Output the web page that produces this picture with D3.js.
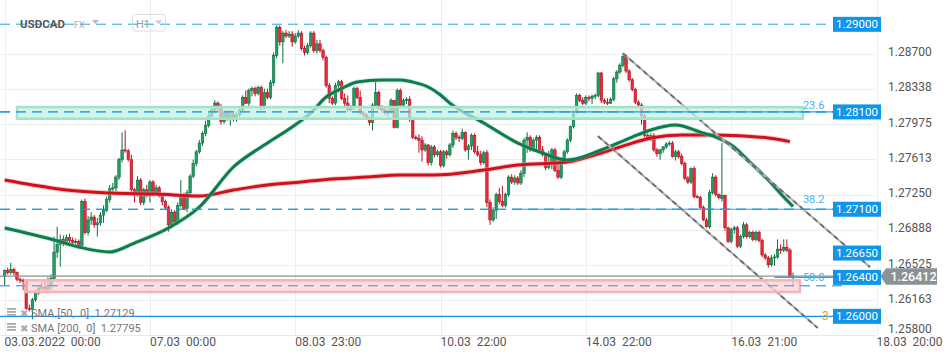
<!DOCTYPE html>
<html><head><meta charset="utf-8">
<script src="https://cdn.jsdelivr.net/npm/d3@7"></script>
<style>body{margin:0;background:#fff;} svg{display:block;font-family:Roboto,Arial,sans-serif;} text{white-space:pre;}</style>
</head><body><svg id="c" width="950" height="360"></svg>
<script>
// ---------- DATA ----------
const opens=[1.2641,1.2647,1.2645,1.2648,1.2645,1.2638,1.2637,1.2636,1.2608,1.2607,
1.2617,1.2624,1.2629,1.2630,1.2628,1.2632,1.2639,1.2666,1.2674,1.2679,
1.2676,1.2681,1.2678,1.2676,1.2677,1.2673,1.2718,1.2686,1.2699,1.2702,
1.2694,1.2696,1.2704,1.2709,1.2720,1.2731,1.2732,1.2743,1.2761,1.2771,
1.2770,1.2761,1.2730,1.2725,1.2740,1.2717,1.2730,1.2724,1.2738,1.2727,
1.2732,1.2724,1.2718,1.2712,1.2694,1.2707,1.2697,1.2714,1.2722,1.2711,
1.2727,1.2744,1.2757,1.2769,1.2778,1.2788,1.2796,1.2806,1.2812,1.2819,
1.2814,1.2800,1.2809,1.2802,1.2808,1.2802,1.2807,1.2812,1.2825,1.2819,
1.2832,1.2834,1.2829,1.2835,1.2815,1.2830,1.2825,1.2840,1.2868,1.2897,
1.2882,1.2891,1.2888,1.2890,1.2882,1.2888,1.2891,1.2875,1.2871,1.2878,
1.2891,1.2873,1.2880,1.2873,1.2866,1.2837,1.2824,1.2819,1.2837,1.2841,
1.2824,1.2819,1.2812,1.2815,1.2834,1.2825,1.2809,1.2807,1.2804,1.2799,
1.2817,1.2830,1.2814,1.2812,1.2809,1.2810,1.2822,1.2794,1.2832,1.2817,
1.2822,1.2823,1.2802,1.2784,1.2783,1.2781,1.2771,1.2776,1.2758,1.2774,
1.2766,1.2769,1.2755,1.2769,1.2766,1.2776,1.2788,1.2784,1.2783,1.2789,
1.2771,1.2775,1.2786,1.2769,1.2766,1.2758,1.2768,1.2717,1.2699,1.2709,
1.2725,1.2718,1.2714,1.2725,1.2743,1.2738,1.2742,1.2737,1.2747,1.2781,
1.2784,1.2771,1.2781,1.2784,1.2771,1.2766,1.2753,1.2758,1.2771,1.2750,
1.2743,1.2759,1.2769,1.2781,1.2795,1.2810,1.2827,1.2822,1.2819,1.2825,
1.2824,1.2826,1.2827,1.2850,1.2822,1.2820,1.2819,1.2823,1.2844,1.2851,
1.2858,1.2867,1.2852,1.2843,1.2833,1.2820,1.2817,1.2806,1.2786,1.2782,
1.2786,1.2771,1.2767,1.2771,1.2774,1.2777,1.2778,1.2764,1.2769,1.2764,
1.2757,1.2742,1.2738,1.2752,1.2723,1.2722,1.2712,1.2699,1.2692,1.2727,
1.2743,1.2725,1.2721,1.2724,1.2691,1.2677,1.2689,1.2691,1.2672,1.2682,
1.2694,1.2682,1.2686,1.2679,1.2686,1.2678,1.2663,1.2660,1.2653,1.2660,
1.2661,1.2669,1.2668,1.2671,1.2668,1.2640];
const highs=[1.2648,1.2650,1.2655,1.2650,1.2646,1.2640,1.2639,1.2637,1.2612,1.2619,
1.2627,1.2632,1.2635,1.2638,1.2640,1.2643,1.2682,1.2692,1.2684,1.2683,
1.2684,1.2685,1.2681,1.2680,1.2679,1.2720,1.2721,1.2703,1.2707,1.2704,
1.2701,1.2707,1.2714,1.2723,1.2735,1.2737,1.2745,1.2763,1.2789,1.2791,
1.2772,1.2766,1.2732,1.2744,1.2742,1.2732,1.2735,1.2740,1.2740,1.2735,
1.2734,1.2726,1.2720,1.2714,1.2710,1.2709,1.2717,1.2740,1.2727,1.2730,
1.2746,1.2761,1.2771,1.2781,1.2790,1.2801,1.2809,1.2816,1.2822,1.2821,
1.2818,1.2812,1.2812,1.2812,1.2810,1.2810,1.2814,1.2827,1.2832,1.2834,
1.2836,1.2836,1.2837,1.2837,1.2834,1.2834,1.2843,1.2871,1.2899,1.2899,
1.2893,1.2894,1.2893,1.2893,1.2891,1.2894,1.2893,1.2878,1.2881,1.2893,
1.2893,1.2884,1.2884,1.2875,1.2868,1.2840,1.2826,1.2840,1.2843,1.2843,
1.2829,1.2827,1.2817,1.2836,1.2836,1.2832,1.2811,1.2809,1.2806,1.2819,
1.2841,1.2832,1.2817,1.2814,1.2813,1.2824,1.2822,1.2834,1.2834,1.2824,
1.2825,1.2826,1.2804,1.2786,1.2787,1.2785,1.2778,1.2777,1.2776,1.2776,
1.2771,1.2771,1.2771,1.2771,1.2778,1.2791,1.2790,1.2786,1.2793,1.2790,
1.2777,1.2788,1.2788,1.2775,1.2770,1.2770,1.2771,1.2720,1.2712,1.2727,
1.2732,1.2734,1.2727,1.2745,1.2746,1.2745,1.2744,1.2750,1.2783,1.2789,
1.2786,1.2783,1.2786,1.2786,1.2775,1.2768,1.2770,1.2773,1.2773,1.2763,
1.2761,1.2771,1.2783,1.2796,1.2812,1.2829,1.2829,1.2825,1.2827,1.2827,
1.2828,1.2829,1.2851,1.2851,1.2824,1.2824,1.2825,1.2846,1.2853,1.2860,
1.2870,1.2869,1.2854,1.2845,1.2835,1.2822,1.2819,1.2808,1.2788,1.2788,
1.2788,1.2773,1.2772,1.2775,1.2779,1.2780,1.2780,1.2771,1.2771,1.2767,
1.2759,1.2744,1.2753,1.2754,1.2725,1.2724,1.2714,1.2701,1.2730,1.2747,
1.2745,1.2726,1.2778,1.2725,1.2692,1.2691,1.2693,1.2693,1.2684,1.2697,
1.2696,1.2688,1.2688,1.2688,1.2688,1.2680,1.2665,1.2662,1.2663,1.2664,
1.2679,1.2674,1.2679,1.2679,1.2670,1.2645];
const lows=[1.2632,1.2643,1.2643,1.2642,1.2636,1.2634,1.2627,1.2607,1.2605,1.2597,
1.2615,1.2622,1.2627,1.2625,1.2626,1.2627,1.2636,1.2660,1.2651,1.2672,
1.2673,1.2674,1.2672,1.2673,1.2671,1.2671,1.2684,1.2683,1.2694,1.2691,
1.2682,1.2693,1.2696,1.2707,1.2717,1.2727,1.2728,1.2740,1.2758,1.2768,
1.2759,1.2728,1.2717,1.2723,1.2714,1.2714,1.2722,1.2717,1.2724,1.2724,
1.2722,1.2714,1.2709,1.2687,1.2691,1.2695,1.2694,1.2712,1.2709,1.2707,
1.2724,1.2742,1.2754,1.2767,1.2775,1.2785,1.2794,1.2804,1.2809,1.2810,
1.2797,1.2798,1.2801,1.2796,1.2800,1.2800,1.2805,1.2810,1.2818,1.2816,
1.2826,1.2826,1.2827,1.2812,1.2812,1.2823,1.2823,1.2837,1.2865,1.2878,
1.2860,1.2886,1.2886,1.2877,1.2880,1.2886,1.2873,1.2868,1.2869,1.2876,
1.2871,1.2870,1.2871,1.2863,1.2835,1.2819,1.2817,1.2817,1.2830,1.2822,
1.2816,1.2810,1.2810,1.2812,1.2823,1.2807,1.2805,1.2802,1.2796,1.2791,
1.2815,1.2812,1.2809,1.2807,1.2805,1.2808,1.2793,1.2793,1.2815,1.2815,
1.2818,1.2800,1.2782,1.2781,1.2768,1.2759,1.2769,1.2755,1.2755,1.2763,
1.2764,1.2753,1.2753,1.2762,1.2764,1.2773,1.2781,1.2779,1.2781,1.2769,
1.2761,1.2771,1.2767,1.2764,1.2755,1.2756,1.2712,1.2694,1.2697,1.2700,
1.2715,1.2712,1.2712,1.2723,1.2736,1.2735,1.2735,1.2735,1.2743,1.2768,
1.2769,1.2769,1.2769,1.2769,1.2764,1.2750,1.2751,1.2751,1.2748,1.2741,
1.2741,1.2757,1.2767,1.2779,1.2793,1.2808,1.2820,1.2817,1.2817,1.2821,
1.2818,1.2823,1.2825,1.2819,1.2818,1.2817,1.2818,1.2821,1.2840,1.2849,
1.2856,1.2850,1.2841,1.2831,1.2818,1.2815,1.2797,1.2784,1.2780,1.2780,
1.2769,1.2764,1.2761,1.2768,1.2772,1.2775,1.2763,1.2760,1.2762,1.2755,
1.2740,1.2736,1.2736,1.2721,1.2721,1.2710,1.2698,1.2691,1.2690,1.2725,
1.2723,1.2720,1.2718,1.2688,1.2675,1.2675,1.2685,1.2670,1.2670,1.2680,
1.2680,1.2680,1.2677,1.2677,1.2676,1.2661,1.2658,1.2650,1.2651,1.2652,
1.2659,1.2664,1.2666,1.2666,1.2640,1.2630];
const closes=[1.2647,1.2645,1.2648,1.2645,1.2638,1.2637,1.2636,1.2608,1.2607,1.2617,
1.2624,1.2629,1.2630,1.2628,1.2632,1.2639,1.2666,1.2674,1.2679,1.2676,
1.2681,1.2678,1.2676,1.2677,1.2673,1.2718,1.2686,1.2699,1.2702,1.2694,
1.2696,1.2704,1.2709,1.2720,1.2731,1.2732,1.2743,1.2761,1.2771,1.2770,
1.2761,1.2730,1.2725,1.2740,1.2717,1.2730,1.2724,1.2738,1.2727,1.2732,
1.2724,1.2718,1.2712,1.2694,1.2707,1.2697,1.2714,1.2722,1.2711,1.2727,
1.2744,1.2757,1.2769,1.2778,1.2788,1.2796,1.2806,1.2812,1.2819,1.2814,
1.2800,1.2809,1.2802,1.2808,1.2802,1.2807,1.2812,1.2825,1.2819,1.2832,
1.2834,1.2829,1.2835,1.2815,1.2830,1.2825,1.2840,1.2868,1.2897,1.2882,
1.2891,1.2888,1.2890,1.2882,1.2888,1.2891,1.2875,1.2871,1.2878,1.2891,
1.2873,1.2880,1.2873,1.2866,1.2837,1.2824,1.2819,1.2837,1.2841,1.2824,
1.2819,1.2812,1.2815,1.2834,1.2825,1.2809,1.2807,1.2804,1.2799,1.2817,
1.2830,1.2814,1.2812,1.2809,1.2810,1.2822,1.2794,1.2832,1.2817,1.2822,
1.2823,1.2802,1.2784,1.2783,1.2781,1.2771,1.2776,1.2758,1.2774,1.2766,
1.2769,1.2755,1.2769,1.2766,1.2776,1.2788,1.2784,1.2783,1.2789,1.2771,
1.2775,1.2786,1.2769,1.2766,1.2758,1.2768,1.2717,1.2699,1.2709,1.2725,
1.2718,1.2714,1.2725,1.2743,1.2738,1.2742,1.2737,1.2747,1.2781,1.2784,
1.2771,1.2781,1.2784,1.2771,1.2766,1.2753,1.2758,1.2771,1.2750,1.2743,
1.2759,1.2769,1.2781,1.2795,1.2810,1.2827,1.2822,1.2819,1.2825,1.2824,
1.2826,1.2827,1.2850,1.2822,1.2820,1.2819,1.2823,1.2844,1.2851,1.2858,
1.2867,1.2852,1.2843,1.2833,1.2820,1.2817,1.2806,1.2786,1.2782,1.2786,
1.2771,1.2767,1.2771,1.2774,1.2777,1.2778,1.2764,1.2769,1.2764,1.2757,
1.2742,1.2738,1.2752,1.2723,1.2722,1.2712,1.2699,1.2692,1.2727,1.2743,
1.2725,1.2722,1.2724,1.2691,1.2677,1.2689,1.2691,1.2672,1.2682,1.2694,
1.2682,1.2686,1.2679,1.2686,1.2678,1.2663,1.2660,1.2653,1.2660,1.2661,
1.2669,1.2668,1.2671,1.2668,1.2641,1.26412];

const sma50Idx=[0,16,24,34,42,53,63,74,85,93,99,104,110,114,122,128,132,137,141,144,155,166,174,182,193,203,209,217,225,230,236,241,247,252,255];
const sma50Val=[1.26907,1.26784,1.26712,1.26661,1.26753,1.26907,1.27123,1.27534,1.2778,1.27945,1.28089,1.28253,1.28356,1.28407,1.28428,1.28428,1.28407,1.28356,1.28274,1.28191,1.27986,1.2778,1.27678,1.27606,1.27709,1.27842,1.27914,1.27965,1.27893,1.27842,1.27739,1.27585,1.274,1.27226,1.27129];
const sma200Idx=[0,9,20,34,49,63,74,85,96,106,117,128,139,155,166,182,193,203,209,219,230,247,254];
const sma200Val=[1.274,1.27349,1.27297,1.27267,1.27256,1.27236,1.27297,1.27349,1.2738,1.2741,1.27431,1.27452,1.27452,1.27503,1.27554,1.27585,1.27678,1.2778,1.27832,1.27863,1.27863,1.27832,1.27795];

const yTicks=[1.258,1.26163,1.26525,1.26888,1.2725,1.27613,1.27975,1.28338,1.287];
const xTickIdx=[0,47,94,141,188,235,282];
const xTickLabels=["03.03.2022  00:00","07.03  00:00","08.03  23:00","10.03  22:00","14.03  22:00","16.03  21:00","18.03  20:00"];

const tagLevels=[1.29,1.281,1.271,1.2665,1.264,1.26];
const dashedLevels=[1.29,1.281,1.271,1.26316];
const fibLevels=[1.281,1.271,1.264];
const fibLabels=["23.6","38.2","50.0"];
const fibStartIdx=164, fibEndIdx=258.2;
const tealZone=[1.2803,1.2815], tealZoneIdx=[4,258.2];
const pinkZone=[1.2625,1.2637], pinkZoneIdx=[6.6,257.2];
const supportLevel=1.26;
const lastPrice=1.26412;
const channelUpper=[[200,1.28702],[279.9,1.26506]];
const channelLower=[[191.9,1.27852],[263,1.2588]];
const legendTexts=["SMA [50,  0]  1.27129","SMA [200,  0]  1.27795"];

// ---------- SCALES ----------
const svg=d3.select("#c");
const x=d3.scaleLinear().domain([0,282]).range([4.6,876.5]);
const y=d3.scaleLinear().domain([1.25808,1.2925]).range([335,0]);
const plotR=876, plotB=335, tagX=833;
const idx=d3.range(closes.length);

// grid
const grid=svg.append("g");
grid.selectAll("line.h").data(yTicks.filter(v=>y(v)<plotB)).join("line")
  .attr("x1",0).attr("x2",plotR).attr("y1",d=>Math.round(y(d))+0.5).attr("y2",d=>Math.round(y(d))+0.5)
  .attr("stroke","#eeeeee");
grid.selectAll("line.v").data(xTickIdx).join("line")
  .attr("x1",d=>Math.round(x(d))+0.5).attr("x2",d=>Math.round(x(d))+0.5).attr("y1",0).attr("y2",plotB)
  .attr("stroke","#eeeeee");
grid.append("line").attr("x1",0).attr("x2",plotR).attr("y1",plotB+0.5).attr("y2",plotB+0.5).attr("stroke","#e8e8e8");

// dashed level lines (under candles)
const lv=svg.append("g");
lv.selectAll("line").data(dashedLevels).join("line")
  .attr("x1",0).attr("x2",(d,i)=>i===0?827:(i===3?848:tagX))
  .attr("y1",d=>y(d)).attr("y2",d=>y(d))
  .attr("stroke",(d,i)=>i===0?"#5cc2f2":(i===3?"#5aa9e6":"#1e96e4"))
  .attr("stroke-width",1.2).attr("stroke-dasharray","10,6");

// candles
const cg=svg.append("g");
const up=i=>closes[i]>=opens[i];
cg.selectAll("line").data(idx).join("line")
  .attr("x1",i=>x(i)).attr("x2",i=>x(i))
  .attr("y1",i=>y(highs[i])).attr("y2",i=>y(lows[i]))
  .attr("stroke",i=>up(i)?"#0d6d43":"#b3131f").attr("stroke-width",1);
cg.selectAll("rect").data(idx).join("rect")
  .attr("x",i=>x(i)-1.25).attr("width",2.5)
  .attr("y",i=>y(Math.max(opens[i],closes[i])))
  .attr("height",i=>Math.max(1,Math.abs(y(opens[i])-y(closes[i]))))
  .attr("fill",i=>up(i)?"#1f9f62":"#ea2a3b")
  .attr("stroke",i=>up(i)?"#0d6d43":"#b3131f").attr("stroke-width",0.6);

// SMA lines
const line=d3.line().x(d=>x(d[0])).y(d=>y(d[1])).curve(d3.curveMonotoneX);
const s200=sma200Idx.map((d,i)=>[d,sma200Val[i]]);
const s50=sma50Idx.map((d,i)=>[d,sma50Val[i]]);
svg.append("path").attr("d",line(s200)).attr("fill","none").attr("stroke","#f29a9e").attr("stroke-width",5).attr("opacity",0.55);
svg.append("path").attr("d",line(s200)).attr("fill","none").attr("stroke","#d0101d").attr("stroke-width",3);
svg.append("path").attr("d",line(s50)).attr("fill","none").attr("stroke","#7fcca7").attr("stroke-width",4.5).attr("opacity",0.45);
svg.append("path").attr("d",line(s50)).attr("fill","none").attr("stroke","#0f7c4e").attr("stroke-width",3);

// channel lines
const chLine=d3.line().x(d=>x(d[0])).y(d=>y(d[1]));
[channelUpper,channelLower].forEach(c=>{
  svg.append("path").attr("d",chLine(c)).attr("stroke","#b4b4b4").attr("stroke-width",2.2).attr("fill","none");
  svg.append("path").attr("d",chLine(c)).attr("stroke","#666").attr("stroke-width",1.6).attr("stroke-dasharray","5,4").attr("fill","none");
});

// zones
function zone(p,ix,fill,stroke){
  svg.append("rect").attr("x",x(ix[0])).attr("width",x(ix[1])-x(ix[0]))
    .attr("y",y(p[1])).attr("height",y(p[0])-y(p[1]))
    .attr("fill",fill).attr("fill-opacity",0.72).attr("stroke",stroke).attr("stroke-width",2.5);
}
zone(tealZone,tealZoneIdx,"#c2f0e0","#a0e3cb");
zone(pinkZone,pinkZoneIdx,"#fbd0d4","#f6b2b7");

// dashed lines again on top of zones
lv.clone(true).raise();

// last price line
svg.append("line").attr("x1",0).attr("x2",tagX).attr("y1",y(lastPrice)).attr("y2",y(lastPrice))
  .attr("stroke","#8a9094").attr("stroke-width",1.2);
// fib solid lines
svg.append("g").selectAll("line").data(fibLevels).join("line")
  .attr("x1",(d,i)=>i===2?x(249):x(fibStartIdx)).attr("x2",tagX).attr("y1",d=>y(d)).attr("y2",d=>y(d))
  .attr("stroke","#2d9ee8").attr("stroke-width",1.2);
// support line
svg.append("line").attr("x1",0).attr("x2",tagX).attr("y1",y(supportLevel)).attr("y2",y(supportLevel))
  .attr("stroke","#1e90e6").attr("stroke-width",1.3);

// fib labels
const fibDy=[-2.5,-6,3.5];
svg.append("g").selectAll("text").data(fibLevels).join("text")
  .attr("x",x(fibEndIdx)).attr("y",(d,i)=>y(d)+fibDy[i]).text((d,i)=>fibLabels[i])
  .attr("font-size",11).attr("fill","#45b3ef");
svg.append("text").attr("x",822).attr("y",y(supportLevel)+4).text("3").attr("font-size",12).attr("fill","#f7931e");

// price tags
const tg=svg.append("g");
tg.selectAll("rect").data(tagLevels).join("rect")
  .attr("x",tagX).attr("width",48).attr("y",d=>y(d)-7.5).attr("height",15).attr("fill","#0f95ea");
tg.selectAll("text").data(tagLevels).join("text")
  .attr("x",tagX+24).attr("y",d=>y(d)+4).attr("text-anchor","middle")
  .attr("font-size",11.5).attr("fill","#fff").text(d=>d.toFixed(5));

// y axis
const yAx=svg.append("g").attr("transform",`translate(${plotR},0)`)
  .call(d3.axisRight(y).tickValues(yTicks).tickFormat(d3.format(".5f")).tickSize(0).tickPadding(12));
yAx.select(".domain").remove();
yAx.attr("font-family",null).attr("font-size",null);
yAx.selectAll("text").attr("font-size",12).attr("fill","#555")
  .attr("transform",d=>`translate(0,${y(d)>329?329-y(d):-1.8})`);

// last price tag
const ly=y(lastPrice);
svg.append("path").attr("d",`M${plotR+4.5},${ly} L${plotR+10},${ly-8} L937,${ly-8} L937,${ly+8.5} L${plotR+10},${ly+8.5} Z`).attr("fill","#8b9296");
svg.append("text").attr("x",913.5).attr("y",ly+4.8).attr("text-anchor","middle").attr("font-size",12.5).attr("font-weight",500).attr("fill","#fff").text(lastPrice.toFixed(5));

// x axis
const xAx=svg.append("g").attr("transform",`translate(0,${plotB})`)
  .call(d3.axisBottom(x).tickValues(xTickIdx).tickFormat((d,i)=>xTickLabels[i]).tickSize(0).tickPadding(2.5));
xAx.select(".domain").remove();
xAx.attr("font-family",null).attr("font-size",null);
xAx.selectAll("text").attr("font-size",12).attr("fill","#555").attr("text-anchor","start").attr("x",-0.5);

// header
svg.append("text").attr("x",20).attr("y",27.5).text("USDCAD").attr("font-size",11.5).attr("font-weight",700).attr("fill","#555");
svg.append("text").attr("x",74).attr("y",27.5).text("FX").attr("font-size",9).attr("fill","#aaa");
svg.append("path").attr("d","M92,20 L99,20 L95.5,24 Z").attr("fill","#bbb");
svg.append("rect").attr("x",132.5).attr("y",14.5).attr("width",33).attr("height",16.5).attr("rx",3).attr("fill","none").attr("stroke","#ddd");
svg.append("text").attr("x",136).attr("y",27.5).text("H1").attr("font-size",11).attr("fill","#999");
svg.append("path").attr("d","M155,20.5 L162,20.5 L158.5,24.5 Z").attr("fill","#ccc");

// legend
const lg=svg.append("g");
legendTexts.forEach((t,i)=>{
  const by=317+i*15;
  [0,3,6].forEach(o=>lg.append("rect").attr("x",7).attr("y",by-9+o).attr("width",9).attr("height",1.8).attr("fill","#aaa"));
  lg.append("text").attr("x",19.5).attr("y",by).text("✖").attr("font-size",10).attr("fill","#aaa");
  lg.append("text").attr("x",31).attr("y",by).text(t).attr("font-size",11).attr("fill","#777");
});
</script>
</body></html>
